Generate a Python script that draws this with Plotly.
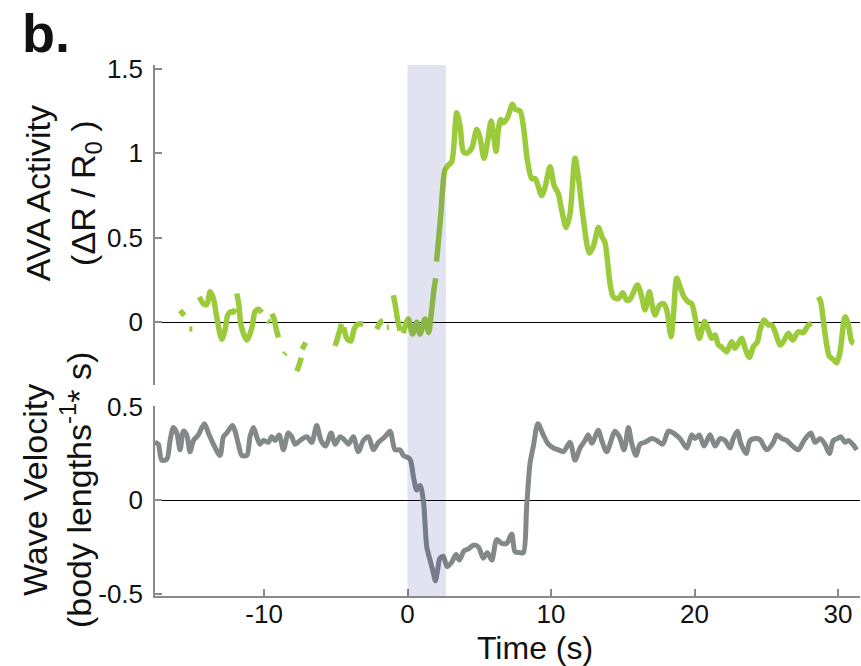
import plotly.graph_objects as go

# AVA calcium activity (dR/R0); None marks dropped frames
ava_time = [-15.85, -15.55, None, -15.2, -15.0, None,
            -14.51, -14.23, -13.99, -13.76, -13.53, -13.3, -12.95, -12.72, -12.53, -12.32, -12.14, -12.0, None,
            -11.9, -11.75, -11.6, -11.2, -10.86, -10.63, -10.4, -10.16, None,
            -9.75, -9.6, None, -9.46, -9.3, -9.15, -9.0, None, -8.6, -8.5, None,
            -7.72, -7.55, -7.4, None, -7.35, -7.1, None,
            -5.05, -4.8, -4.6, None, -4.45, -4.2, -3.95, -3.72, -3.45, -3.1, None,
            -2.15, -1.9, -1.7, None, -1.45, -1.3, None,
            -0.99, -0.85, -0.7, -0.52, None,
            -0.3, 0.05, 0.35, 0.64, 0.87, 1.22, 1.47, 1.65, 1.85, 1.97, None,
            2.02, 2.3, 2.61, 2.85, 3.08, 3.43, 3.66, 3.89, 4.12, 4.47, 4.82, 5.05, 5.33, 5.56, 5.82,
            5.98, 6.17, 6.33, 6.49, 6.68, 6.96, 7.31, 7.49, 7.84, 8.07, 8.35, 8.65, 8.89, 9.05, 9.35,
            9.58, 9.93, 10.21, 10.51, 10.75, 11.05, 11.32, 11.67, 11.9, 12.25, 12.67, 12.95, 13.3,
            13.53, 13.76, 14.11, 14.34, 14.69, 15.0, 15.27, 15.5, 16.02, 16.32, 16.55, 16.85, 17.02,
            17.25, 17.55, 17.83, 18.06, 18.36, 18.52, 18.76, 18.99, 19.27, 19.57, 19.8, 20.03, 20.33,
            20.7, 20.96, 21.2, 21.43, 21.66, 21.9, 22.24, 22.59, 22.82, 23.29, 23.52, 23.82, 24.1,
            24.38, 24.56, 24.84, 25.14, 25.38, 25.61, 25.96, 26.19, 26.54, 26.84, 27.23, 27.58,
            27.93, 28.17, None,
            28.63, 28.79, 29.09, 29.39, 29.67, 29.91, 30.14, 30.49, 30.72, 30.95, 31.11]
ava_value = [0.07, 0.04, None, -0.04, -0.04, None,
             0.15, 0.11, 0.105, 0.18, 0.14, 0.033, -0.10, -0.046, 0.043, 0.063, 0.06, 0.08, None,
             0.17, 0.10, -0.02, -0.105, -0.036, 0.063, 0.077, 0.057, None,
             0.01, 0.0, None, 0.05, 0.02, -0.04, -0.09, None, -0.19, -0.18, None,
             -0.29, -0.25, -0.21, None, -0.16, -0.12, None,
             -0.14, -0.07, -0.01, None, -0.03, -0.10, -0.11, -0.04, -0.01, -0.01, None,
             -0.04, 0.0, 0.01, None, -0.03, -0.03, None,
             0.16, 0.10, 0.02, -0.05, None,
             -0.065, 0.02, -0.07, 0.0, -0.07, 0.02, -0.06, 0.05, 0.20, 0.26, None,
             0.36, 0.62, 0.90, 0.93, 0.95, 1.24, 1.16, 1.01, 1.00, 1.03, 1.14, 1.09, 0.97, 1.06, 1.19,
             1.12, 1.01, 1.14, 1.20, 1.18, 1.21, 1.29, 1.26, 1.25, 1.16, 0.96, 0.85, 0.85, 0.82, 0.75,
             0.80, 0.92, 0.81, 0.76, 0.66, 0.56, 0.64, 0.97, 0.86, 0.61, 0.41, 0.45, 0.56,
             0.51, 0.47, 0.23, 0.15, 0.14, 0.175, 0.13, 0.136, 0.22, 0.15, 0.073, 0.18, 0.11,
             0.043, 0.10, 0.11, 0.073, -0.085, 0.033, 0.26, 0.21, 0.15, 0.12, 0.11, 0.033, -0.095,
             0.004, -0.046, -0.095, -0.075, -0.134, -0.148, -0.174, -0.115, -0.154, -0.095, -0.154, -0.207, -0.144,
             -0.115, -0.046, 0.014, -0.016, -0.016, -0.056, -0.134, -0.115, -0.065, -0.105, -0.056, -0.061,
             -0.016, -0.006, None,
             0.151, 0.122, -0.065, -0.20, -0.22, -0.24, -0.174, 0.033, -0.016, -0.115, -0.124]

# Body-wave velocity (body lengths / s)
vel_time = [-17.6, -17.37, -17.13, -16.78, -16.55, -16.32, -16.08, -15.85, -15.62, -15.39, -15.16,
            -14.92, -14.58, -14.16, -13.88, -13.53, -13.07, -12.83, -12.6, -12.2, -12.02, -11.79,
            -11.55, -11.2, -10.98, -10.74, -10.51, -10.28, -10.05, -9.7, -9.46, -9.23, -8.95, -8.65,
            -8.31, -8.07, -7.84, -7.49, -7.02, -6.68, -6.33, -6.03, -5.7, -5.33, -5.05, -4.7, -4.36,
            -4.12, -3.78, -3.43, -3.08, -2.73, -2.38, -2.03, -1.57, -1.22, -0.87, -0.52, -0.29,
            0.17, 0.4, 0.64, 0.87, 1.1, 1.34, 1.57, 1.8, 1.94, 2.08, 2.26, 2.49, 2.77, 3.08, 3.38,
            3.61, 3.94, 4.24, 4.59, 4.94, 5.28, 5.56, 5.87, 6.22, 6.56, 6.91, 7.26, 7.49, 7.84, 8.07,
            8.3, 8.54, 8.77, 9.08, 9.46, 9.81, 10.16, 10.51, 10.86, 11.32, 11.67, 12.02, 12.37, 12.6,
            12.84, 13.3, 13.53, 13.88, 14.46, 14.76, 15.09, 15.39, 15.62, 15.92, 16.2, 16.55, 17.02,
            17.37, 17.78, 18.18, 18.52, 18.99, 19.46, 19.8, 20.03, 20.33, 20.66, 21.08, 21.43, 21.78,
            22.13, 22.47, 22.7, 22.98, 23.22, 23.59, 23.87, 24.22, 24.56, 25.03, 25.49, 25.73, 26.08,
            26.42, 26.84, 27.23, 27.63, 28.1, 28.4, 28.75, 29.09, 29.39, 29.67, 29.95, 30.19, 30.49,
            30.72, 31.07, 31.3]
vel_value = [0.31, 0.30, 0.215, 0.22, 0.32, 0.39, 0.36, 0.27, 0.37, 0.35, 0.26,
             0.32, 0.35, 0.41, 0.36, 0.30, 0.24, 0.34, 0.36, 0.40, 0.37, 0.30,
             0.24, 0.24, 0.34, 0.39, 0.34, 0.30, 0.32, 0.31, 0.34, 0.32, 0.35, 0.27,
             0.36, 0.34, 0.30, 0.32, 0.34, 0.31, 0.40, 0.32, 0.29, 0.36, 0.30, 0.34, 0.32,
             0.30, 0.34, 0.26, 0.32, 0.34, 0.27, 0.31, 0.34, 0.37, 0.27, 0.27, 0.24,
             0.22, 0.13, 0.055, 0.08, 0.0, -0.25, -0.32, -0.39, -0.43, -0.38, -0.31, -0.30, -0.355, -0.33, -0.29,
             -0.32, -0.27, -0.26, -0.24, -0.25, -0.31, -0.28, -0.32, -0.21, -0.23, -0.23, -0.18, -0.275, -0.28, -0.28,
             -0.034, 0.20, 0.29, 0.41, 0.35, 0.30, 0.28, 0.27, 0.26, 0.31, 0.215, 0.28, 0.32, 0.35,
             0.305, 0.375, 0.32, 0.26, 0.37, 0.34, 0.27, 0.39, 0.305, 0.24, 0.30, 0.31, 0.33,
             0.32, 0.30, 0.37, 0.36, 0.33, 0.28, 0.35, 0.33, 0.35, 0.29, 0.35, 0.29, 0.33,
             0.32, 0.28, 0.33, 0.37, 0.305, 0.25, 0.32, 0.33, 0.325, 0.27, 0.31, 0.35, 0.33,
             0.32, 0.29, 0.27, 0.32, 0.36, 0.31, 0.33, 0.30, 0.25, 0.32, 0.33, 0.34, 0.31,
             0.32, 0.295, 0.27]

# Stimulus window (s)
stim_window = [0.0, 2.67]

x_ticks = [-10, 0, 10, 20, 30]
x_ticktext = ["-10", "0", "10", "20", "30"]
ava_ticks = [0, 0.5, 1, 1.5]
ava_ticktext = ["0", "0.5", "1", "1.5"]
vel_ticks = [-0.5, 0, 0.5]
vel_ticktext = ["-0.5", "0", "0.5"]

FONT = "Liberation Sans, Arial, Helvetica, sans-serif"
AXIS_GRAY = "#8a8a8a"
GREEN = "#9bcb3b"
GRAY = "#838888"

fig = go.Figure()

fig.add_trace(go.Scatter(x=ava_time, y=ava_value, mode="lines", xaxis="x2", yaxis="y2",
                         line=dict(color=GREEN, width=5.5, shape="spline", smoothing=0.8),
                         connectgaps=False, hoverinfo="skip"))
fig.add_trace(go.Scatter(x=vel_time, y=vel_value, mode="lines", xaxis="x", yaxis="y",
                         line=dict(color=GRAY, width=5, shape="spline", smoothing=0.8),
                         hoverinfo="skip"))

# stimulus shading across both panels
fig.add_shape(type="rect", xref="x", yref="paper", x0=stim_window[0], x1=stim_window[1],
              y0=0, y1=1, fillcolor="rgb(40,60,150)", opacity=0.14, line_width=0, layer="above")

xrange = [-17.6, 31.53]
tickfont = dict(family=FONT, size=26, color="#111111")

fig.update_layout(
    width=861, height=666,
    margin=dict(l=155, r=1, t=65, b=70),
    plot_bgcolor="white", paper_bgcolor="white",
    showlegend=False,
    font=dict(family=FONT, color="#111111"),
    xaxis=dict(domain=[0, 1], anchor="y", range=xrange, showgrid=False, zeroline=False,
               showline=True, linecolor=AXIS_GRAY, linewidth=1.5,
               ticks="inside", ticklen=7, tickcolor=AXIS_GRAY, tickwidth=1.5,
               tickvals=x_ticks, ticktext=x_ticktext, tickfont=tickfont,
               ticklabelstandoff=-6),
    xaxis2=dict(domain=[0, 1], anchor="y2", range=xrange, matches="x", visible=False),
    yaxis=dict(domain=[0, 0.358], anchor="x", range=[-0.512, 0.505], showgrid=False,
               zeroline=True, zerolinecolor="black", zerolinewidth=1,
               showline=True, linecolor=AXIS_GRAY, linewidth=1.5,
               ticks="inside", ticklen=7, tickcolor=AXIS_GRAY, tickwidth=1.5,
               tickvals=vel_ticks, ticktext=vel_ticktext, tickfont=tickfont,
               ticklabelstandoff=5),
    yaxis2=dict(domain=[0.398, 1], anchor="x2", range=[-0.369, 1.522], showgrid=False,
                zeroline=True, zerolinecolor="black", zerolinewidth=1,
                showline=True, linecolor=AXIS_GRAY, linewidth=1.5,
                ticks="inside", ticklen=7, tickcolor=AXIS_GRAY, tickwidth=1.5,
                tickvals=ava_ticks, ticktext=ava_ticktext, tickfont=tickfont,
                ticklabelstandoff=5),
)

title_font = dict(family=FONT, size=34, color="#111111")
fig.add_annotation(text="AVA Activity<br>(ΔR / R<sub>0</sub> )", xref="paper", yref="paper",
                   x=-0.13, y=0.759, xanchor="center", yanchor="middle", textangle=-90,
                   showarrow=False, font=title_font)
fig.add_annotation(text="Wave Velocity<br>(body lengths<sup>-1</sup>* s)", xref="paper", yref="paper",
                   x=-0.14, y=0.2, xanchor="center", yanchor="middle", textangle=-90,
                   showarrow=False, font=title_font)
fig.add_annotation(text="Time (s)", xref="paper", yref="paper", x=0.539, y=-0.098,
                   xanchor="center", yanchor="middle", showarrow=False,
                   font=dict(family=FONT, size=32, color="#111111"))
fig.add_annotation(text="<b>b.</b>", xref="paper", yref="paper", x=-0.192, y=1.06,
                   xanchor="left", yanchor="middle", showarrow=False,
                   font=dict(family=FONT, size=54, color="#111111"))

fig.write_html("out.html")
